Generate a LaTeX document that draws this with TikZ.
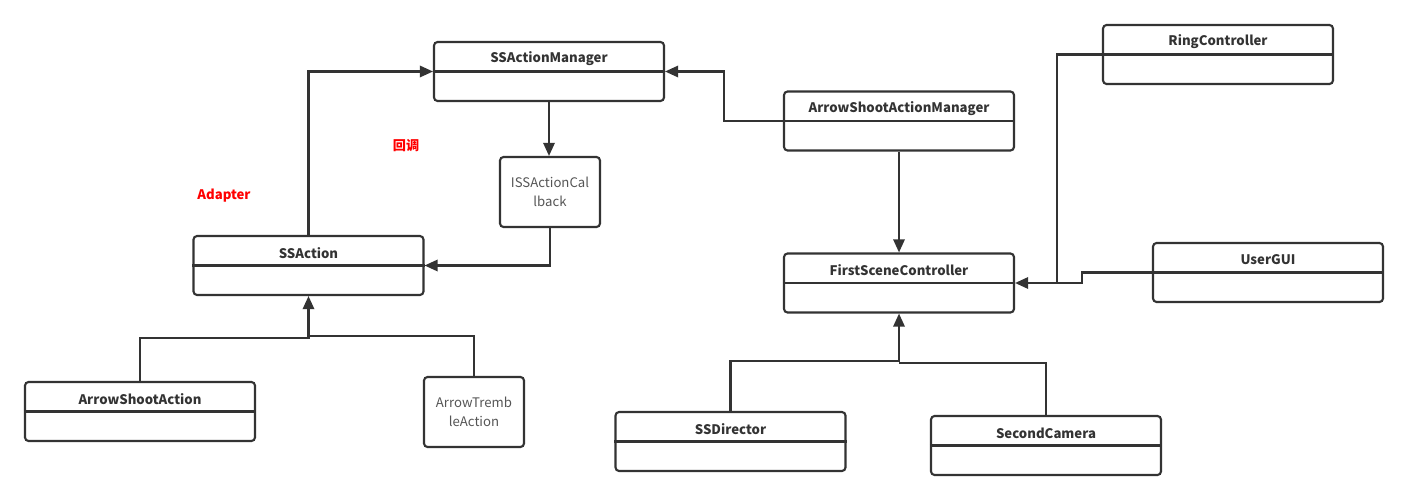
\documentclass[tikz,border=0pt]{standalone}
\usepackage{fontspec}
\setmainfont{Noto Sans CJK SC}
\usetikzlibrary{arrows.meta}
\definecolor{linha}{HTML}{333333}
\definecolor{texto}{HTML}{555555}
\tikzset{
  classe/.style={draw=linha, line width=1.2pt, rounded corners=2pt,
    minimum width=4.6cm, minimum height=1.18cm, inner sep=0pt},
  caixa/.style={draw=linha, line width=1.2pt, rounded corners=2pt,
    minimum width=2cm, minimum height=1.4cm, align=center, text=texto,
    font=\fontsize{7.5}{11}\selectfont},
  titulo/.style={text=linha, font=\bfseries\fontsize{7.5}{9}\selectfont},
  fio/.style={draw=linha, line width=1.2pt},
  liga/.style={fio, -{Triangle[length=7.5pt,width=6.5pt]}},
  nota/.style={text=red, font=\bfseries\fontsize{7.5}{9}\selectfont}
}
% caixa de classe: nome, posicao, titulo
\newcommand{\umlclasse}[3]{
  \node[classe] (#1) at (#2) {};
  \draw[fio] (#1.west) -- (#1.east);
  \node[titulo] (#1-t) at ([yshift=0.25cm]#1.center) {#3};
}
\begin{document}
\begin{tikzpicture}[x=0.02cm, y=-0.02cm]
  \useasboundingbox (0,0) rectangle (1408,500);
  \umlclasse{mgr}{549,71.5}{SSActionManager}
  \umlclasse{act}{308.5,265.5}{SSAction}
  \umlclasse{shoot}{140,411.5}{ArrowShootAction}
  \umlclasse{smgr}{899,121}{ArrowShootActionManager}
  \umlclasse{fsc}{899,283}{FirstSceneController}
  \umlclasse{ring}{1218,54.5}{RingController}
  \umlclasse{gui}{1268,272.5}{UserGUI}
  \umlclasse{dir}{730.5,441.5}{SSDirector}
  \umlclasse{cam}{1046,445.5}{SecondCamera}
  \node[caixa] (cb) at (550,192) {ISSActionCal\\lback};
  \node[caixa] (tremble) at (474,412) {ArrowTremb\\leAction};
  \node[nota] (adapter) at (224,196) {Adapter};
  \node[nota] (callback) at (406,146) {回调};

  % lado esquerdo
  \draw[liga] (act.north) |- (mgr.west);
  \draw[liga] (mgr.south) -- (mgr.south |- cb.north);
  \draw[liga] (cb.south) |- (act.east);
  \draw[liga] (shoot.north) -- ++(0,-43) -| (act.south);
  \draw[fio] (tremble.north) -- ++(0,-40) coordinate (c1) -- (c1 -| act.south);

  % lado direito
  \draw[liga] (smgr.west) -- ++(-59,0) |- (mgr.east);
  \draw[liga] (smgr.south) -- (fsc.north);
  \coordinate (juncao) at ([xshift=-0.9cm]ring.west |- fsc.east);
  \draw[liga] (ring.west) -| (juncao) -- (fsc.east);
  \draw[fio] (gui.west) -- ++(-70,0) |- (juncao);
  \draw[liga] (dir.north) -- ++(0,-50) -| (fsc.south);
  \draw[fio] (cam.north) -- ++(0,-52) coordinate (c2) -- (c2 -| fsc.south);
\end{tikzpicture}
\end{document}
